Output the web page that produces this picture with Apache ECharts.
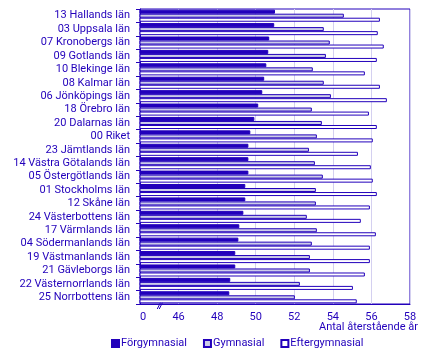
<!DOCTYPE html>
<html><head><meta charset="utf-8">
<script src="https://cdn.jsdelivr.net/npm/echarts@6/dist/echarts.min.js"></script>
<style>html,body{margin:0;padding:0;background:#fff}#c{width:425px;height:354px}</style>
</head><body><div id="c"></div>
<script>
const categories = ["13 Hallands län","03 Uppsala län","07 Kronobergs län","09 Gotlands län","10 Blekinge län","08 Kalmar län","06 Jönköpings län","18 Örebro län","20 Dalarnas län","00 Riket","23 Jämtlands län","14 Västra Götalands län","05 Östergötlands län","01 Stockholms län","12 Skåne län","24 Västerbottens län","17 Värmlands län","04 Södermanlands län","19 Västmanlands län","21 Gävleborgs län","22 Västernorrlands län","25 Norrbottens län"];
const forgymnasial = [51.0,50.96,50.7,50.65,50.55,50.44,50.34,50.13,49.93,49.72,49.62,49.62,49.62,49.46,49.46,49.36,49.15,49.1,48.94,48.94,48.68,48.63];
const gymnasial = [54.57,53.53,53.84,53.64,52.96,53.53,53.9,52.91,53.43,53.17,52.76,53.07,53.48,53.12,53.12,52.65,53.17,52.91,52.81,52.81,52.29,52.03];
const eftergymnasial = [56.44,56.33,56.64,56.28,55.66,56.44,56.8,55.87,56.28,56.07,55.3,55.97,56.07,56.28,55.92,55.45,56.23,55.92,55.92,55.66,55.04,55.24];
const seriesNames = ["Förgymnasial","Gymnasial","Eftergymnasial"];
const xMin = 44, xMax = 58, xStep = 2;

const navy = '#2200bb';
const font = 'Roboto';
const chart = echarts.init(document.getElementById('c'), null, {renderer:'canvas'});
const mk = (name, data, fill) => ({
  name, type:'bar', data, barGap:'0%', barCategoryGap:'10%',
  itemStyle:{color:fill, borderColor:navy, borderWidth:1}, animation:false
});
chart.setOption({
  animation:false,
  textStyle:{fontFamily:font},
  grid:{left:140, right:15, top:9, bottom:50, show:true, borderColor:navy, borderWidth:1, backgroundColor:'transparent'},
  legend:{bottom:0, left:106, itemWidth:7, itemHeight:7, itemGap:16, icon:'rect',
    textStyle:{color:navy, fontSize:11, fontFamily:font, padding:[0,0,0,-3]}, data:seriesNames},
  xAxis:{type:'value', min:xMin, max:xMax, interval:xStep,
    axisLine:{show:true, lineStyle:{color:navy}}, axisTick:{show:false},
    splitLine:{show:true, lineStyle:{color:'#d4d0f0'}},
    axisLabel:{color:navy, fontSize:11, fontFamily:font, margin:8, alignMinLabel:'left', formatter:v => v===xMin ? '0' : String(v)}},
  yAxis:{type:'category', data:categories, inverse:true,
    axisLine:{show:true, lineStyle:{color:navy}},
    axisTick:{show:true, length:4, lineStyle:{color:navy}},
    axisLabel:{color:navy, fontSize:11, fontFamily:font, margin:10, interval:0}},
  series:[mk(seriesNames[0], forgymnasial, navy), mk(seriesNames[1], gymnasial, '#cccce8'), mk(seriesNames[2], eftergymnasial, '#ffffff')]
});
const gridBottom = 354 - 50;
const bx = chart.convertToPixel({xAxisIndex:0}, 45.05);
chart.setOption({graphic:[
  {type:'line', shape:{x1:bx-3, y1:gridBottom+5, x2:bx+1, y2:gridBottom-3}, style:{stroke:navy, lineWidth:1}},
  {type:'line', shape:{x1:bx-1, y1:gridBottom+5, x2:bx+3, y2:gridBottom-3}, style:{stroke:navy, lineWidth:1}},
  {type:'text', right:7, top:322, style:{text:'Antal återstående år', fill:navy, font:'11px '+font}}
]});
</script></body></html>
